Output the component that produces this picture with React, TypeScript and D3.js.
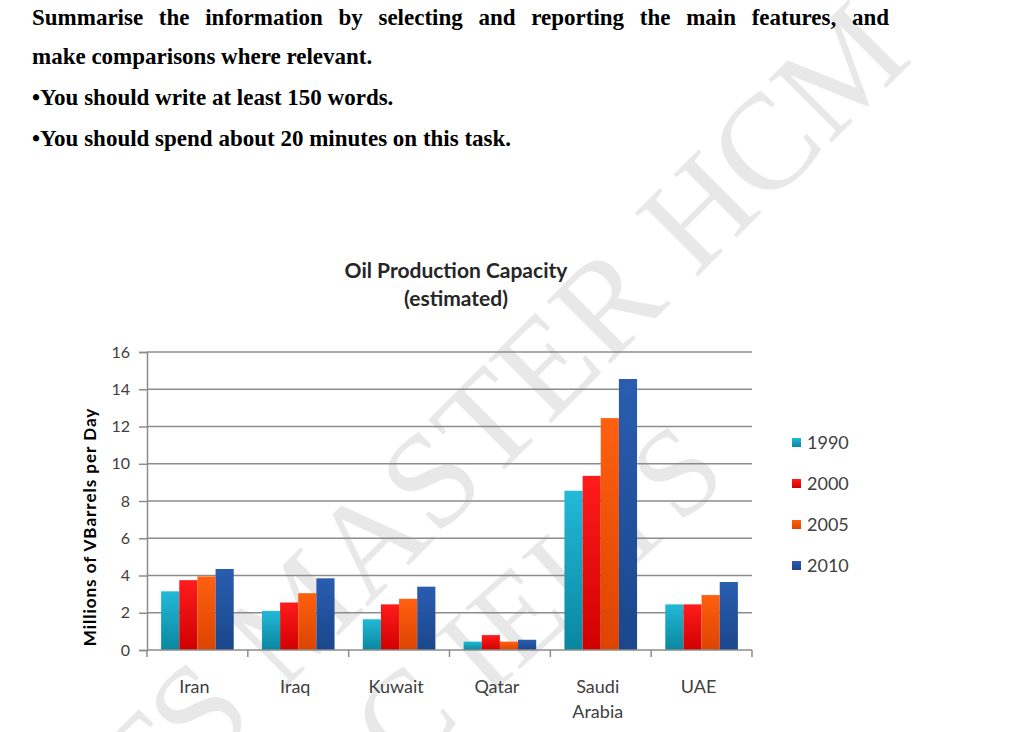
import { useEffect, useRef } from "react";
import * as d3 from "d3";

const countries = ["Iran", "Iraq", "Kuwait", "Qatar", "Saudi Arabia", "UAE"];
const years = ["1990", "2000", "2005", "2010"];
const v1990 = [3.15, 2.1, 1.65, 0.45, 8.55, 2.45];
const v2000 = [3.75, 2.55, 2.45, 0.8, 9.35, 2.45];
const v2005 = [3.95, 3.05, 2.75, 0.45, 12.45, 2.95];
const v2010 = [4.35, 3.85, 3.4, 0.55, 14.55, 3.65];
const yTicks = [0, 2, 4, 6, 8, 10, 12, 14, 16];
const instructions = [
  "Summarise the information by selecting and reporting the main features, and",
  "make comparisons where relevant.",
  "\u2022You should write at least 150 words.",
  "\u2022You should spend about 20 minutes on this task.",
];

const seriesValues = [v1990, v2000, v2005, v2010];
const colors = [
  ["#22b9d8", "#0a879f"],
  ["#ff1c1c", "#d00000"],
  ["#ff6010", "#dc4400"],
  ["#2a5db0", "#1a468c"],
];

const App = () => {
  const ref = useRef<SVGSVGElement>(null);

  useEffect(() => {
    const width = 1010;
    const height = 732;
    const svg = d3.select(ref.current).attr("width", width).attr("height", height);
    svg.selectAll("*").remove();

    // watermark behind everything
    const wm = svg.append("g").attr("fill", "#e8e8e8").style("font-family", "Liberation Serif");
    wm.append("text")
      .attr("transform", "translate(4,970) rotate(-45)")
      .style("font-size", "136px")
      .text("IELTS MASTER HCM");
    wm.append("text")
      .attr("transform", "translate(401,776) rotate(-42)")
      .style("font-size", "125px")
      .text("C IELTS");

    // instructions
    const serif = svg.append("g")
      .style("font-family", "Liberation Serif")
      .style("font-weight", "bold")
      .style("font-size", "23px")
      .attr("fill", "#000");
    const baselines = [25, 64, 105, 146];
    instructions.forEach((line, i) => {
      if (i === 0) {
        // justified line
        const words = line.split(" ");
        const nodes = words.map(w => serif.append("text").attr("y", baselines[i]).text(w));
        const widths = nodes.map(n => (n.node() as SVGTextElement).getComputedTextLength());
        const total = d3.sum(widths);
        const gap = (889 - 32 - total) / (words.length - 1);
        let x = 32;
        nodes.forEach((n, k) => {
          n.attr("x", x);
          x += widths[k] + gap;
        });
      } else {
        serif.append("text").attr("x", 32).attr("y", baselines[i]).text(line);
      }
    });

    const sans = "Lato, 'Open Sans', sans-serif";
    const left = 147, right = 752, top = 352, bottom = 650;

    const x = d3.scaleBand().domain(countries).range([left, right]).paddingInner(0.28).paddingOuter(0.14);
    const xs = d3.scaleBand().domain(years).range([0, x.bandwidth()]);
    const y = d3.scaleLinear().domain([0, 16]).range([bottom, top]);

    const defs = svg.append("defs");
    colors.forEach((c, i) => {
      const g = defs.append("linearGradient").attr("id", `g${i}`).attr("x1", 0).attr("y1", 0).attr("x2", 0).attr("y2", 1);
      g.append("stop").attr("offset", "0%").attr("stop-color", c[0]);
      g.append("stop").attr("offset", "100%").attr("stop-color", c[1]);
    });

    // title
    svg.append("text")
      .attr("x", 456).attr("y", 278)
      .attr("text-anchor", "middle")
      .style("font-family", sans).style("font-weight", "bold").style("font-size", "21px")
      .attr("fill", "#262626")
      .text("Oil Production Capacity");
    svg.append("text")
      .attr("x", 456).attr("y", 306)
      .attr("text-anchor", "middle")
      .style("font-family", sans).style("font-weight", "bold").style("font-size", "21px")
      .attr("fill", "#262626")
      .text("(estimated)");

    // gridlines
    svg.append("g")
      .selectAll("line")
      .data(yTicks.filter(t => t > 0))
      .join("line")
      .attr("x1", left).attr("x2", right)
      .attr("y1", d => y(d)).attr("y2", d => y(d))
      .attr("stroke", "#8c8c8c").attr("stroke-width", 1.5);

    // y axis
    const yAxis = svg.append("g")
      .attr("transform", `translate(${left},0)`)
      .call(d3.axisLeft(y).tickValues(yTicks).tickSize(8).tickPadding(9));
    yAxis.selectAll("path,line").attr("stroke", "#8c8c8c").attr("stroke-width", 1.5);
    yAxis.selectAll("text")
      .style("font-family", sans).style("font-size", "16px").attr("fill", "#404040");

    svg.append("text")
      .attr("transform", "translate(96,527) rotate(-90)")
      .attr("text-anchor", "middle")
      .style("font-family", sans).style("font-weight", "bold").style("font-size", "17px")
      .style("letter-spacing", "1px")
      .attr("fill", "#000")
      .text("Millions of VBarrels per Day");

    // bars
    seriesValues.forEach((vals, si) => {
      svg.append("g")
        .selectAll("rect")
        .data(vals)
        .join("rect")
        .attr("x", (d, i) => (x(countries[i]) ?? 0) + (xs(years[si]) ?? 0))
        .attr("width", xs.bandwidth())
        .attr("y", d => y(d))
        .attr("height", d => bottom - y(d))
        .attr("fill", `url(#g${si})`);
    });

    // x axis with ticks between categories
    const step = x.step();
    const xAxisG = svg.append("g");
    xAxisG.append("line")
      .attr("x1", left).attr("x2", right)
      .attr("y1", bottom).attr("y2", bottom)
      .attr("stroke", "#8c8c8c").attr("stroke-width", 1.5);
    xAxisG.selectAll("line.tick")
      .data(d3.range(countries.length + 1))
      .join("line")
      .attr("class", "tick")
      .attr("x1", i => left + i * step).attr("x2", i => left + i * step)
      .attr("y1", bottom).attr("y2", bottom + 7)
      .attr("stroke", "#8c8c8c").attr("stroke-width", 1.5);

    const labels = xAxisG.selectAll("text")
      .data(countries)
      .join("text")
      .attr("x", d => (x(d) ?? 0) + x.bandwidth() / 2 - 3)
      .attr("y", 693)
      .attr("text-anchor", "middle")
      .style("font-family", sans).style("font-size", "18px")
      .attr("fill", "#404040");
    labels.each(function (d) {
      const parts = d.split(" ");
      d3.select(this).selectAll("tspan")
        .data(parts)
        .join("tspan")
        .attr("x", (x(d) ?? 0) + x.bandwidth() / 2 - 3)
        .attr("dy", (p, k) => (k === 0 ? 0 : 25))
        .text(p => p);
    });

    // legend
    const legend = svg.append("g");
    years.forEach((yr, i) => {
      const cy = 442 + i * 41;
      legend.append("rect")
        .attr("x", 792).attr("y", cy - 4).attr("width", 9).attr("height", 9)
        .attr("fill", `url(#g${i})`);
      legend.append("text")
        .attr("x", 807).attr("y", cy + 7)
        .style("font-family", sans).style("font-size", "18px")
        .attr("fill", "#404040")
        .text(yr);
    });
  }, []);

  return <svg ref={ref} style={{ position: "absolute", left: 0, top: 0, background: "#fff" }} />;
};

export default App;
